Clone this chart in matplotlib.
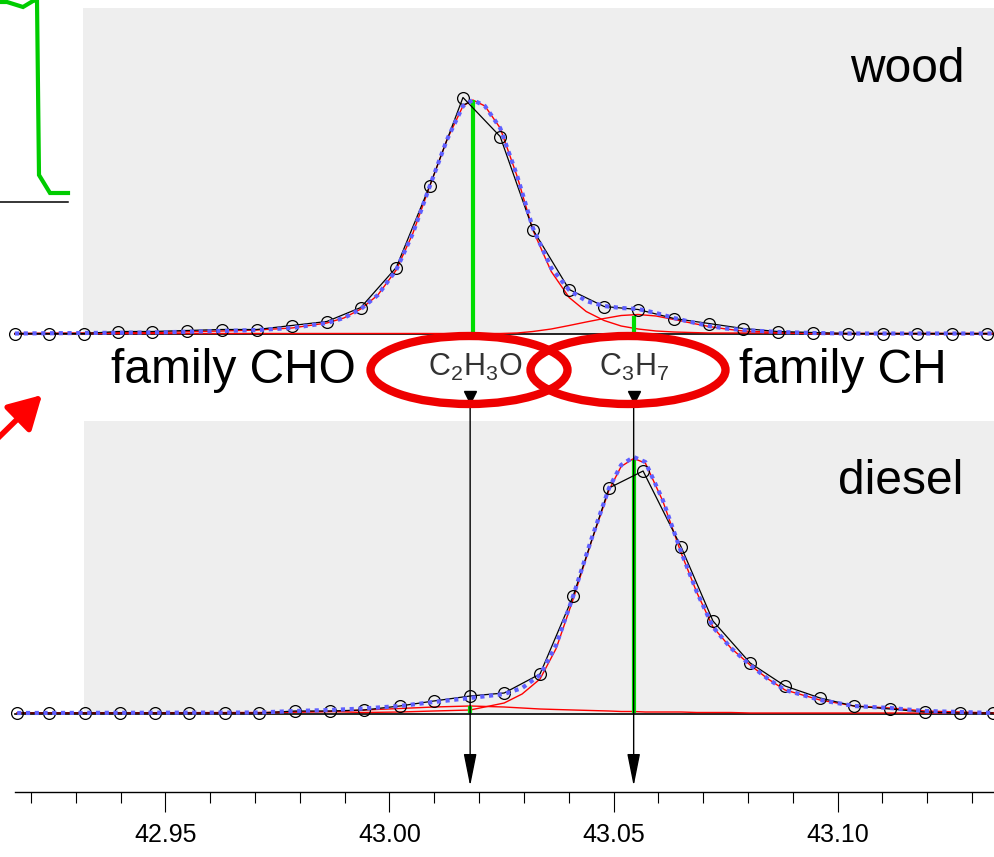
import matplotlib
matplotlib.use("Agg")
import matplotlib.pyplot as plt
from matplotlib.patches import Rectangle, Ellipse
from matplotlib.ticker import MultipleLocator

plt.rcParams['font.family'] = ['Liberation Sans', 'DejaVu Sans']
plt.rcParams['mathtext.fontset'] = 'custom'
plt.rcParams['mathtext.rm'] = 'Liberation Sans'

# ---------------- data (m/z and intensity) ----------------
# wood: measured points
wood_mz = [42.9164, 42.9240, 42.9318, 42.9394, 42.9470, 42.9548, 42.9626, 42.9704,
           42.9782, 42.9860, 42.9936, 43.0015, 43.0090, 43.0164, 43.0247, 43.0320,
           43.0401, 43.0479, 43.0555, 43.0635, 43.0713, 43.0789, 43.0867, 43.0945,
           43.1023, 43.1102, 43.1177, 43.1256, 43.1334]
wood_counts = [0, 0, 0, 2, 2, 3, 4, 4, 8, 12, 26, 66, 148, 236, 197, 104,
               44, 27, 24, 15, 10, 5, 2, 1, 0, 0, 0, 0, 0]

# wood: fitted curves
wood_fit_mz = [42.9164, 42.9318, 42.9470, 42.9626, 42.9704, 42.9782, 42.9860, 42.9898,
               42.9936, 42.9974, 43.0015, 43.0052, 43.0090, 43.0128, 43.0164, 43.0186,
               43.0213, 43.0247, 43.0285, 43.0320, 43.0361, 43.0401, 43.0439, 43.0479,
               43.0517, 43.0555, 43.0595, 43.0635, 43.0673, 43.0713, 43.0751, 43.0789,
               43.0867, 43.0945, 43.1023, 43.1349]
wood_fit_total = [0, 0.5, 1, 2.5, 3.5, 5.5, 10.5, 15.5, 24.5, 38.5, 63.5, 100, 147.5, 193.5,
                  227.5, 233.5, 227.5, 205.5, 157.5, 105.5, 65.5, 43.5, 32.5, 27.5, 25.5,
                  24.5, 20.5, 15.5, 11.5, 7.5, 5, 3.5, 1.5, 0.5, 0, 0]
wood_fit_cho = [0, 0.5, 1, 2.5, 3.5, 5.5, 10.5, 15.5, 24.5, 38.5, 63.5, 100, 147.5, 193.5,
                227.5, 233.5, 227.5, 205.5, 157, 103.5, 62, 36, 22, 13, 7.5,
                4.5, 2.5, 1.5, 1, 0.5, 0.5, 0.5, 0.5, 0, 0, 0]
wood_fit_ch = [0, 0, 0, 0, 0, 0, 0, 0, 0, 0, 0, 0, 0, 0,
               0, 0, 0, 0, 0.5, 2, 4.5, 8, 11.5, 15, 18,
               19, 17.5, 14, 10.5, 7, 4.5, 2.5, 1, 0, 0, 0]

# diesel: measured points
diesel_mz = [42.9169, 42.9240, 42.9320, 42.9398, 42.9477, 42.9552, 42.9633, 42.9709,
             42.9789, 42.9867, 42.9943, 43.0023, 43.0099, 43.0180, 43.0256, 43.0336,
             43.0410, 43.0490, 43.0566, 43.0651, 43.0722, 43.0805, 43.0883, 43.0961,
             43.1037, 43.1117, 43.1195, 43.1273, 43.1347]
diesel_counts = [0, 0, 0, 0, 0, 0, 0, 0, 2, 2, 3, 7, 12, 17, 20, 39,
                 117, 225, 242, 166, 92, 50, 27, 15, 7, 4, 1, 0, 0]

# diesel: fitted curves
diesel_fit_mz = [42.9169, 42.9709, 42.9789, 42.9867, 42.9943, 43.0023, 43.0099, 43.0180,
                 43.0256, 43.0296, 43.0336, 43.0372, 43.0410, 43.0450, 43.0490, 43.0517,
                 43.0545, 43.0571, 43.0610, 43.0651, 43.0686, 43.0722, 43.0762, 43.0805,
                 43.0845, 43.0883, 43.0961, 43.1037, 43.1117, 43.1195, 43.1273, 43.1349]
diesel_fit_total = [0, 0.5, 2, 3, 4.5, 7, 11, 15, 19, 25, 38, 68, 117, 173, 225, 248,
                    256, 251, 213, 161, 121, 86, 65, 48, 34, 23, 13, 7, 5, 2, 1, 0]
diesel_fit_cho = [0, 0.5, 1, 1.5, 3, 4.5, 6, 7, 6, 5, 4, 3.5, 3, 2.5, 2, 1.5,
                  1.5, 1, 1, 1, 0.5, 0.5, 0.5, 0, 0, 0, 0, 0, 0, 0, 0, 0]
diesel_fit_ch = [0, 0, 1, 1.5, 0.5, 1, 2, 3, 10, 19, 34, 64.5, 114, 170.5, 223, 246.5,
                 254.5, 250, 212, 160, 120.5, 86, 65, 48, 34, 23, 13, 7, 5, 2, 1, 0]

# peak positions (sticks) and their heights
wood_stick_mz = [43.0186, 43.0546]
wood_stick_h = [233.5, 18]
diesel_stick_mz = [43.0180, 43.0545]
diesel_stick_h = [7, 253]

formula_labels = [r'$\mathrm{C_2H_3O}$', r'$\mathrm{C_3H_7}$']
arrow_mz = [43.0180, 43.0545]
major_ticks = [42.95, 43.00, 43.05, 43.10]

# ---------------- figure ----------------
W, H = 994, 857
XMIN, XMAX = 42.91306, 43.13493
fig = plt.figure(figsize=(W / 100, H / 100), dpi=100)

# pixel-space background layer (grey plot areas)
ax_bg = fig.add_axes([0, 0, 1, 1])
ax_bg.set_xlim(0, W)
ax_bg.set_ylim(H, 0)
ax_bg.axis('off')
ax_bg.add_patch(Rectangle((83, 8), 911, 325.5, color='#eeeeee', lw=0))
ax_bg.add_patch(Rectangle((84, 421), 910, 292, color='#eeeeee', lw=0))


def draw_panel(ax, mz, counts, fit_mz, total, comp_a, comp_b, st_mz, st_h):
    ax.axis('off')
    ax.patch.set_visible(False)
    ax.set_xlim(XMIN, XMAX)
    ax.plot([42.9164, XMAX], [-0.6, -0.6], color='black', lw=1.2)
    ax.plot(fit_mz, comp_a, color='red', lw=1)
    ax.plot(fit_mz, comp_b, color='red', lw=1)
    ax.vlines(st_mz, 0, st_h, color='#00dd00', lw=3)
    ax.plot(mz, counts, color='black', lw=0.9, marker='o', ms=8.5,
            mfc='none', mec='black', mew=0.9)
    ax.plot(fit_mz, total, color='#5f5fff', lw=3, ls=(0, (1, 1.1)))


ax_wood = fig.add_axes([0, 1 - 343 / H, 1, 343 / H])
ax_wood.set_ylim(-9.5, 333.5)
draw_panel(ax_wood, wood_mz, wood_counts, wood_fit_mz, wood_fit_total,
           wood_fit_cho, wood_fit_ch, wood_stick_mz, wood_stick_h)

ax_dsl = fig.add_axes([0, 1 - 720 / H, 1, 320 / H])
ax_dsl.set_ylim(-7, 313)
draw_panel(ax_dsl, diesel_mz, diesel_counts, diesel_fit_mz, diesel_fit_total,
           diesel_fit_cho, diesel_fit_ch, diesel_stick_mz, diesel_stick_h)

# m/z axis + arrows linking the two spectra
ax_m = fig.add_axes([0, 0, 1, 1])
ax_m.patch.set_visible(False)
ax_m.set_xlim(XMIN, XMAX)
ax_m.set_ylim(H, 0)
for s in ['top', 'left', 'right']:
    ax_m.spines[s].set_visible(False)
ax_m.spines['bottom'].set_position(('data', 792))
ax_m.spines['bottom'].set_bounds(42.9164, XMAX)
ax_m.spines['bottom'].set_linewidth(1)
ax_m.set_yticks([])
ax_m.set_xticks(major_ticks)
ax_m.set_xticklabels(['%.2f' % t for t in major_ticks])
ax_m.xaxis.set_minor_locator(MultipleLocator(0.01))
ax_m.tick_params(axis='x', which='major', direction='out', length=14.5, width=0.8,
                 labelsize=18, pad=8)
ax_m.tick_params(axis='x', which='minor', direction='out', length=8, width=0.8)

for m in arrow_mz:
    ax_m.annotate('', xy=(m, 786), xytext=(m, 396),
                  arrowprops=dict(arrowstyle='-|>,head_length=1.0,head_width=0.2',
                                  color='black', lw=1, mutation_scale=20,
                                  shrinkA=0, shrinkB=0))
    ax_m.plot([m], [397], marker='v', ms=8, color='black')

# annotations layer (pixel space)
ax_top = fig.add_axes([0, 0, 1, 1])
ax_top.set_xlim(0, W)
ax_top.set_ylim(H, 0)
ax_top.axis('off')

# leftover trace from the neighbouring plot, top-left corner
ax_top.plot([0, 7, 23, 33, 37, 39, 50, 68], [2, 2, 7, 1, 0, 175, 193, 193],
            color='#00cc00', lw=3, solid_joinstyle='miter')
ax_top.plot([0, 68], [202, 202], color='black', lw=1.1)

# red pointer arrow at left
ax_top.annotate('', xy=(42, 395), xytext=(-6, 442),
                arrowprops=dict(arrowstyle='-|>,head_length=0.8,head_width=0.45',
                                color='red', lw=4, mutation_scale=25,
                                shrinkA=0, shrinkB=0))

ax_top.text(907, 82, 'wood', fontsize=34.5, ha='center', va='baseline')
ax_top.text(901, 494, 'diesel', fontsize=34.5, ha='center', va='baseline')
ax_top.text(233, 383, 'family CHO', fontsize=34.5, ha='center', va='baseline')
ax_top.text(843, 383, 'family CH', fontsize=34.5, ha='center', va='baseline')

ax_top.text(475, 376, formula_labels[0], fontsize=22, ha='center', va='baseline',
            color='#333333')
ax_top.text(634, 376, formula_labels[1], fontsize=22, ha='center', va='baseline',
            color='#333333')

ax_top.add_patch(Ellipse((469, 370), 197, 68, fill=False, ec='#ee0000', lw=6))
ax_top.add_patch(Ellipse((628, 370), 195, 68, fill=False, ec='#ee0000', lw=6))

fig.savefig('out.png', dpi=100)
